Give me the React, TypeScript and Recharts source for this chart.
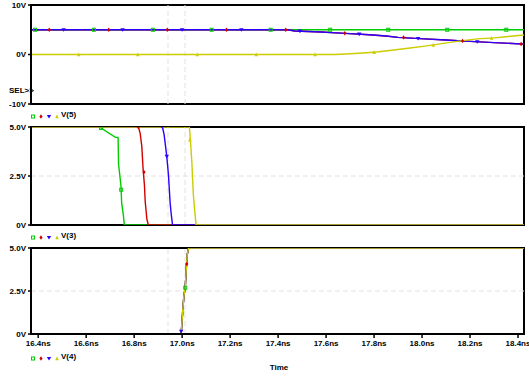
import React from 'react';
import { ComposedChart, Line, Scatter, XAxis, YAxis, ReferenceLine, ReferenceArea } from 'recharts';

// time axis (ns)
const timeTicks = [16.4, 16.6, 16.8, 17.0, 17.2, 17.4, 17.6, 17.8, 18.0, 18.2, 18.4];
const timeDomain = [16.37, 18.425];
const cursorTimes = [16.941, 17.012];

// V(5) traces: [time ns, volts]
const v5Green = [[16.37, 5], [18.425, 5]];
const v5Red = [[16.37, 5], [17.44, 5], [17.47, 4.75], [17.58, 4.55], [17.68, 4.27], [17.78, 4.0], [17.85, 3.74], [17.9, 3.47], [17.99, 3.2], [18.1, 2.94], [18.2, 2.66], [18.3, 2.4], [18.425, 2.1]];
const v5Blue = [[16.37, 5], [17.44, 5], [17.47, 4.75], [17.58, 4.55], [17.68, 4.27], [17.78, 4.0], [17.85, 3.74], [17.9, 3.47], [17.99, 3.2], [18.1, 2.94], [18.2, 2.66], [18.3, 2.4], [18.425, 2.1]];
const v5Yellow = [[16.37, 0], [17.64, 0], [17.72, 0.2], [17.77, 0.35], [17.82, 0.55], [17.89, 0.95], [17.95, 1.3], [18.02, 1.75], [18.11, 2.4], [18.17, 2.8], [18.23, 3.15], [18.3, 3.35], [18.35, 3.6], [18.425, 3.94]];

const v5GreenMk = [[16.387, 5], [16.632, 5], [16.878, 5], [17.123, 5], [17.369, 5], [17.617, 5], [17.859, 5], [18.105, 5], [18.351, 5]];
const v5RedMk = [[16.446, 5], [16.694, 5], [16.938, 5], [17.185, 5], [17.432, 5], [17.678, 4.3], [17.923, 3.45], [18.169, 2.75], [18.413, 2.12]];
const v5BlueMk = [[16.506, 5], [16.752, 5], [17.0, 5], [17.247, 5], [17.491, 4.72], [17.738, 4.1], [17.984, 3.22], [18.23, 2.58]];
const v5YellowMk = [[16.569, 0], [16.815, 0], [17.063, 0], [17.309, 0], [17.554, 0], [17.8, 0.47], [18.047, 1.94], [18.29, 3.32]];

// V(3) traces
const v3Green = [[16.37, 5], [16.655, 5], [16.722, 4.47], [16.733, 4.47], [16.735, 3.1], [16.745, 2.0], [16.748, 1.1], [16.755, 0.5], [16.759, 0], [18.425, 0]];
const v3Red = [[16.37, 5], [16.818, 5], [16.825, 4.68], [16.832, 4.0], [16.837, 2.9], [16.843, 2.0], [16.846, 1.2], [16.853, 0.3], [16.859, 0], [18.425, 0]];
const v3Blue = [[16.37, 5], [16.918, 5], [16.925, 4.6], [16.936, 3.5], [16.943, 2.55], [16.95, 1.12], [16.955, 0.5], [16.96, 0], [18.425, 0]];
const v3Yellow = [[16.37, 5], [17.03, 5], [17.033, 4.6], [17.04, 3.3], [17.047, 1.5], [17.052, 0.8], [17.058, 0], [18.425, 0]];

const v3GreenMk = [[16.662, 4.95], [16.746, 1.8]];
const v3RedMk = [[16.817, 5], [16.841, 2.7]];
const v3BlueMk = [[16.917, 5], [16.936, 3.5]];
const v3YellowMk = [[17.032, 4.35]];

// V(4) - all runs rise together
const v4Rise = [[16.37, 0], [16.996, 0], [16.999, 0.64], [17.003, 1.4], [17.007, 2.17], [17.013, 2.73], [17.017, 3.72], [17.021, 4.6], [17.027, 5], [18.425, 5]];
const v4GreenMk = [[17.013, 2.69]];
const v4RedMk = [[17.019, 4.07]];
const v4BlueMk = [[16.996, 0.15]];
const v4YellowMk = [[17.004, 1.35]];

const SERIES = [
  { color: '#00cc00', shape: 'square' },
  { color: '#d00000', shape: 'diamond' },
  { color: '#2a00ff', shape: 'down' },
  { color: '#cccc00', shape: 'up' },
];

const FONT = { fontFamily: 'Liberation Sans', fontSize: 8, fontWeight: 700, fill: '#000' };

const toRows = (pts: number[][]) => pts.map(([t, v]) => ({ t, v }));

const Marker = ({ kind, cx, cy, color }: any) => {
  if (cx == null || cy == null) return null;
  if (kind === 'square')
    return <rect x={cx - 1.5} y={cy - 1.5} width={3} height={3} fill="none" stroke={color} strokeWidth={1} />;
  if (kind === 'diamond')
    return <path d={`M${cx},${cy - 2.2}L${cx + 1.6},${cy}L${cx},${cy + 2.2}L${cx - 1.6},${cy}Z`} fill={color} />;
  if (kind === 'down')
    return <path d={`M${cx - 2.2},${cy - 1.6}L${cx + 2.2},${cy - 1.6}L${cx},${cy + 2}Z`} fill={color} />;
  return <path d={`M${cx - 1.8},${cy + 1.8}L${cx + 1.8},${cy + 1.8}L${cx},${cy - 2}Z`} fill={color} />;
};

interface PanelProps {
  top: number;
  height: number;
  marginTop: number;
  marginBottom: number;
  yDomain: number[];
  yTicks: number[];
  yFormat: (v: number) => string;
  traces: number[][][];
  markers: number[][][];
  showTime?: boolean;
  midLine?: number;
}

const Panel = ({ top, height, marginTop, marginBottom, yDomain, yTicks, yFormat, traces, markers, showTime, midLine }: PanelProps) => (
  <div style={{ position: 'absolute', left: 0, top }}>
    <ComposedChart width={529} height={height} margin={{ top: marginTop, right: 5, bottom: marginBottom, left: 0 }}>
      <XAxis
        type="number"
        dataKey="t"
        domain={timeDomain}
        allowDataOverflow
        ticks={timeTicks}
        interval={0}
        tickFormatter={(v: number) => `${v.toFixed(1)}ns`}
        tick={showTime ? FONT : false}
        tickLine={showTime ? { stroke: '#000', strokeWidth: 1.5 } : false}
        tickSize={4}
        tickMargin={2}
        height={showTime ? 22 : 0}
        axisLine={{ stroke: '#000', strokeWidth: 2 }}
      />
      <YAxis
        type="number"
        domain={yDomain}
        allowDataOverflow
        ticks={yTicks}
        interval={0}
        tickFormatter={yFormat}
        tick={FONT}
        tickLine={{ stroke: '#000', strokeWidth: 1.5 }}
        tickSize={3}
        tickMargin={2}
        width={31}
        axisLine={{ stroke: '#000', strokeWidth: 2 }}
      />
      <ReferenceArea x1={timeDomain[0]} x2={timeDomain[1]} y1={yDomain[0]} y2={yDomain[1]} fill="none" stroke="#000" strokeWidth={2} ifOverflow="visible" />
      {midLine != null && <ReferenceLine y={midLine} stroke="#e2e2e2" strokeDasharray="5 3" />}
      {cursorTimes.map((t) => (
        <ReferenceLine key={t} x={t} stroke="#e2e2e2" strokeDasharray="5 3" />
      ))}
      {traces.map((pts, i) => (
        <Line
          key={`l${i}`}
          data={toRows(pts)}
          dataKey="v"
          type="linear"
          stroke={SERIES[i].color}
          strokeWidth={1.4}
          dot={false}
          activeDot={false}
          isAnimationActive={false}
        />
      ))}
      {markers.map((pts, i) => (
        <Scatter
          key={`m${i}`}
          data={toRows(pts)}
          dataKey="v"
          isAnimationActive={false}
          shape={(p: any) => <Marker kind={SERIES[i].shape} cx={p.cx} cy={p.cy} color={SERIES[i].color} />}
        />
      ))}
    </ComposedChart>
  </div>
);

const LegendRow = ({ y, label }: { y: number; label: string }) => (
  <g>
    {SERIES.map((s, i) => (
      <Marker key={i} kind={s.shape} cx={33 + i * 8} cy={y + 2.5} color={s.color} />
    ))}
    <text x={61} y={y} dy="0.35em" {...FONT}>{label}</text>
  </g>
);

const fmtV = (v: number) => `${v}V`;
const fmtV1 = (v: number) => (v === 0 ? '0V' : `${v.toFixed(1)}V`);

export default function App() {
  return (
    <div style={{ position: 'fixed', left: 0, top: 0, width: 529, height: 389, background: '#fff' }}>
      <Panel
        top={0}
        height={110}
        marginTop={5}
        marginBottom={6}
        yDomain={[-10, 10]}
        yTicks={[-10, 0, 10]}
        yFormat={fmtV}
        traces={[v5Green, v5Red, v5Blue, v5Yellow]}
        markers={[v5GreenMk, v5RedMk, v5BlueMk, v5YellowMk]}
      />
      <Panel
        top={120}
        height={110}
        marginTop={7}
        marginBottom={5}
        yDomain={[0, 5]}
        yTicks={[0, 2.5, 5]}
        yFormat={fmtV1}
        traces={[v3Green, v3Red, v3Blue, v3Yellow]}
        markers={[v3GreenMk, v3RedMk, v3BlueMk, v3YellowMk]}
        midLine={2.5}
      />
      <Panel
        top={240}
        height={116}
        marginTop={8}
        marginBottom={0}
        yDomain={[0, 5]}
        yTicks={[0, 2.5, 5]}
        yFormat={fmtV1}
        traces={[v4Rise, v4Rise, v4Rise, v4Rise]}
        markers={[v4GreenMk, v4RedMk, v4BlueMk, v4YellowMk]}
        midLine={2.5}
        showTime
      />
      <svg width={529} height={389} style={{ position: 'absolute', left: 0, top: 0, pointerEvents: 'none' }}>
        <text x={9} y={90} dy="0.35em" {...FONT}>SEL&gt;&gt;</text>
        <LegendRow y={114} label="V(5)" />
        <LegendRow y={235} label="V(3)" />
        <LegendRow y={356} label="V(4)" />
        <text x={279} y={367} dy="0.35em" textAnchor="middle" {...FONT}>Time</text>
      </svg>
    </div>
  );
}
